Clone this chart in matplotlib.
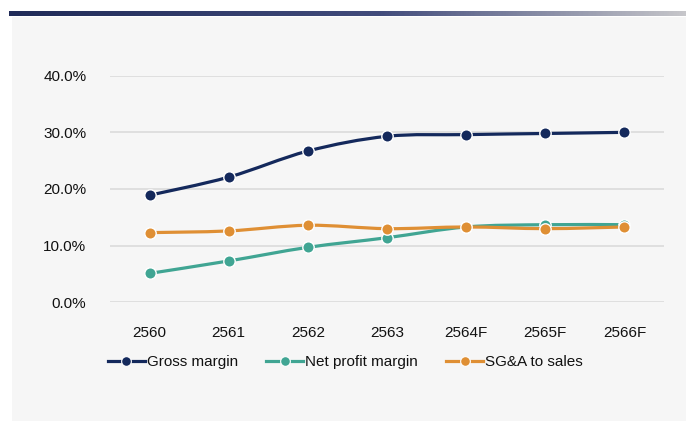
import numpy as np
import matplotlib
matplotlib.use("Agg")
import matplotlib.pyplot as plt
from matplotlib.path import Path
from matplotlib.patches import PathPatch, Rectangle
from matplotlib.lines import Line2D
from matplotlib.colors import LinearSegmentedColormap

years = ["2560", "2561", "2562", "2563", "2564F", "2565F", "2566F"]
gross_margin = [18.9, 22.1, 26.7, 29.3, 29.6, 29.8, 30.0]
net_profit_margin = [5.1, 7.3, 9.7, 11.4, 13.3, 13.7, 13.7]
sga_to_sales = [12.3, 12.6, 13.6, 13.0, 13.3, 13.0, 13.3]

series = [
    ("Gross margin", gross_margin, "#14295c"),
    ("Net profit margin", net_profit_margin, "#40a593"),
    ("SG&A to sales", sga_to_sales, "#df8f34"),
]

plt.rcParams["font.family"] = ["Liberation Sans", "DejaVu Sans"]


def smooth_path(x, y):
    """Catmull-Rom style bezier through the points (like Excel smoothed lines)"""
    pts = np.column_stack([x, y]).astype(float)
    n = len(pts)
    verts = [pts[0]]
    codes = [Path.MOVETO]
    for i in range(n - 1):
        p0 = pts[max(i - 1, 0)]
        p1 = pts[i]
        p2 = pts[i + 1]
        p3 = pts[min(i + 2, n - 1)]
        c1 = p1 + (p2 - p0) / 6.0
        c2 = p2 - (p3 - p1) / 6.0
        verts += [c1, c2, p2]
        codes += [Path.CURVE4] * 3
    return Path(verts, codes)


fig = plt.figure(figsize=(6.86, 4.21), dpi=100)
fig.patch.set_facecolor("white")

# light panel behind the chart
fig.patches.append(Rectangle((12 / 686, 0), 1, (421 - 16.5) / 421,
                             transform=fig.transFigure, facecolor="#f6f6f6",
                             edgecolor="none", zorder=-5))

# gradient header bar
bar_ax = fig.add_axes([9 / 686, (421 - 16.5) / 421, 1 - 9 / 686, 6 / 421])
cmap = LinearSegmentedColormap.from_list(
    "hdr", [(0, "#202b58"), (0.55, "#424c7c"), (1.0, "#c6c6ca")])
bar_ax.imshow(np.linspace(0, 1, 400)[None, :], aspect="auto", cmap=cmap)
bar_ax.axis("off")

ax = fig.add_axes([110 / 686, (421 - 302.3) / 421, 554 / 686, 226.6 / 421])
ax.patch.set_visible(False)

x = np.arange(len(years))
for i, (name, vals, color) in enumerate(series):
    y = np.array(vals) / 100.0
    ax.add_patch(PathPatch(smooth_path(x, y), facecolor="none", edgecolor=color,
                           lw=2.3, capstyle="round", joinstyle="round",
                           zorder=3 + i * 2))
    ax.plot(x, y, linestyle="none", marker="o", ms=8.2, mfc=color,
            mec="white", mew=1.0, zorder=4 + i * 2, clip_on=False)

ax.set_xlim(-0.5, len(years) - 0.5)
ax.set_ylim(0, 0.40)
ax.set_yticks(np.arange(0, 0.41, 0.10))
ax.set_yticklabels([f"{v * 100:.1f}%" for v in np.arange(0, 0.41, 0.10)])
ax.set_xticks(x)
ax.set_xticklabels(years)
ax.grid(axis="y", color="#d9d9d9", lw=1.1)
ax.set_axisbelow(True)
for s in ax.spines.values():
    s.set_visible(False)
ax.tick_params(axis="both", length=0, labelsize=11, colors="#111111")
ax.tick_params(axis="y", pad=17)
ax.tick_params(axis="x", pad=17)

handles = [Line2D([0], [0], color=c, lw=2.3, marker="o", ms=7, mfc=c,
                  mec="white", mew=0.8) for _, _, c in series]
fig.legend(handles, [s[0] for s in series], loc="center left",
           bbox_to_anchor=(108 / 686, 1 - 362 / 421), ncol=3, frameon=False,
           fontsize=11, labelcolor="#111111", handlelength=2.4,
           handletextpad=0.15, columnspacing=1.85, borderpad=0,
           borderaxespad=0)

fig.savefig("out.png", dpi=100)
